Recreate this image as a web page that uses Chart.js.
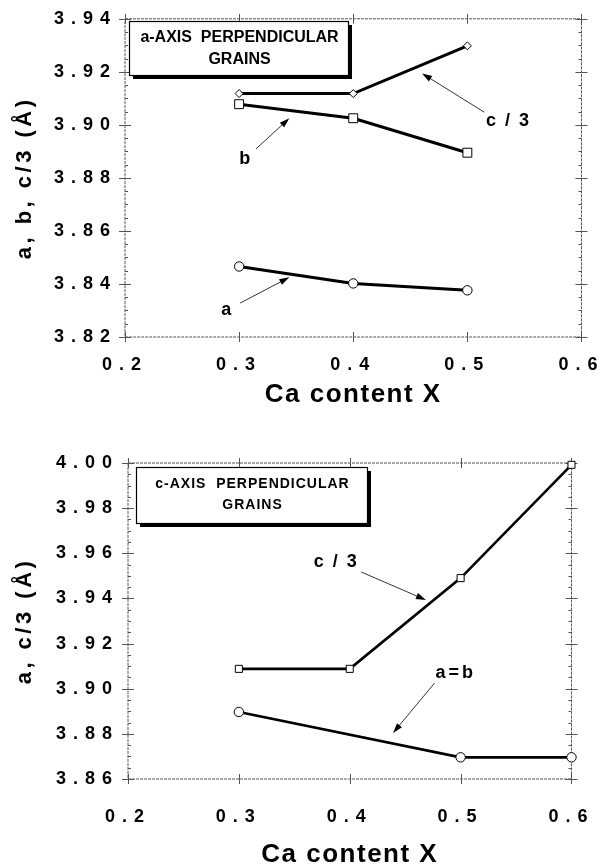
<!DOCTYPE html>
<html>
<head>
<meta charset="utf-8">
<script src="https://cdn.jsdelivr.net/npm/chart.js@4.4.1/dist/chart.umd.min.js"></script>
<style>
  body { margin: 0; background: #fff; }
  canvas { position: absolute; left: 0; }
  #top { top: 0; }
  #bottom { top: 430px; }
</style>
</head>
<body>
<canvas id="top" width="611" height="430"></canvas>
<canvas id="bottom" width="611" height="437"></canvas>
<script>
// ---- data ----
const xTicks = [0.2, 0.3, 0.4, 0.5, 0.6];
const yTicksTop = [3.82, 3.84, 3.86, 3.88, 3.90, 3.92, 3.94];
const yTicksBottom = [3.86, 3.88, 3.90, 3.92, 3.94, 3.96, 3.98, 4.00];

// a-axis perpendicular grains
const topX = [0.3, 0.4, 0.5];
const topA = [3.8466, 3.8402, 3.8376];
const topB = [3.9078, 3.9025, 3.8895];
const topC3 = [3.9118, 3.9118, 3.9298];

// c-axis perpendicular grains
const botCX = [0.3, 0.4, 0.5, 0.6];
const botC3 = [3.9088, 3.9088, 3.9490, 3.9992];
const botABX = [0.3, 0.5, 0.6];
const botAB = [3.8897, 3.8696, 3.8696];

const FONT = "'Liberation Sans', Arial, sans-serif";
const pts = (xs, ys) => xs.map((x, i) => ({ x, y: ys[i] }));

function arrow(ctx, x0, y0, x1, y1) {
  const ang = Math.atan2(y1 - y0, x1 - x0);
  ctx.beginPath();
  ctx.moveTo(x0, y0);
  ctx.lineTo(x1 - 6 * Math.cos(ang), y1 - 6 * Math.sin(ang));
  ctx.stroke();
  ctx.beginPath();
  ctx.moveTo(x1, y1);
  ctx.lineTo(x1 - 10 * Math.cos(ang) + 3.2 * Math.sin(ang), y1 - 10 * Math.sin(ang) - 3.2 * Math.cos(ang));
  ctx.lineTo(x1 - 10 * Math.cos(ang) - 3.2 * Math.sin(ang), y1 - 10 * Math.sin(ang) + 3.2 * Math.cos(ang));
  ctx.closePath();
  ctx.fill();
}

const deco = {
  id: 'deco',
  beforeDraw(chart) {
    chart.ctx.letterSpacing = '7px';
  },
  beforeDatasetsDraw(chart) {
    // frame with crossing major ticks, minor ticks inside
    const { ctx, chartArea: a, scales: { x, y } } = chart;
    ctx.save();
    ctx.strokeStyle = '#555';
    ctx.lineWidth = 1;
    ctx.setLineDash([3, 1]);
    ctx.strokeRect(a.left, a.top, a.right - a.left, a.bottom - a.top);
    ctx.setLineDash([]);
    ctx.beginPath();
    y.ticks.forEach(t => {
      const p = Math.round(y.getPixelForValue(t.value)) + 0.5;
      ctx.moveTo(a.left - 6, p); ctx.lineTo(a.left + 6, p);
      ctx.moveTo(a.right - 6, p); ctx.lineTo(a.right + 6, p);
    });
    for (let i = 0; i < y.ticks.length - 1; i++) {
      const v0 = y.ticks[i].value, v1 = y.ticks[i + 1].value;
      for (let k = 1; k < 4; k++) {
        const p = Math.round(y.getPixelForValue(v0 + (v1 - v0) * k / 4)) + 0.5;
        ctx.moveTo(a.left, p); ctx.lineTo(a.left + 3, p);
        ctx.moveTo(a.right - 3, p); ctx.lineTo(a.right, p);
      }
    }
    x.ticks.forEach(t => {
      const p = Math.round(x.getPixelForValue(t.value)) + 0.5;
      ctx.moveTo(p, a.bottom - 5); ctx.lineTo(p, a.bottom + 5);
      ctx.moveTo(p, a.top - 5); ctx.lineTo(p, a.top + 5);
    });
    ctx.stroke();
    ctx.restore();
  },
  afterDatasetsDraw(chart, args, o) {
    const { ctx, chartArea: a, scales: { x, y } } = chart;
    ctx.save();
    ctx.fillStyle = '#000';
    ctx.strokeStyle = '#000';

    // axis titles
    ctx.font = 'bold 26px ' + FONT;
    ctx.letterSpacing = '1.5px';
    ctx.textAlign = 'center';
    ctx.textBaseline = 'middle';
    ctx.fillText(o.xTitle, (a.left + a.right) / 2, o.xTitleY);
    ctx.save();
    ctx.translate(25, (a.top + a.bottom) / 2);
    ctx.rotate(-Math.PI / 2);
    ctx.font = 'bold 22px ' + FONT;
    ctx.letterSpacing = '3.5px';
    ctx.fillText(o.yTitle, 0, 0);
    ctx.restore();

    // label box with drop shadow
    const b = o.box;
    ctx.fillRect(b.x + 4, b.y + 4, b.w, b.h);
    ctx.fillStyle = '#fff';
    ctx.fillRect(b.x, b.y, b.w, b.h);
    ctx.lineWidth = 1.2;
    ctx.strokeRect(b.x + 0.5, b.y + 0.5, b.w, b.h);
    ctx.fillStyle = '#000';
    ctx.font = 'bold ' + b.size + 'px ' + FONT;
    ctx.letterSpacing = b.ls + 'px';
    ctx.fillText(b.lines[0], b.x + b.w / 2 + 1, b.y + b.l1);
    ctx.fillText(b.lines[1], b.x + b.w / 2 + 1, b.y + b.l2);

    // curve labels with arrows
    ctx.lineWidth = 0.8;
    o.notes.forEach(n => {
      ctx.font = 'bold 18px ' + FONT;
      ctx.letterSpacing = n.ls + 'px';
      ctx.fillText(n.text, x.getPixelForValue(n.at[0]), y.getPixelForValue(n.at[1]));
      arrow(ctx, x.getPixelForValue(n.from[0]), y.getPixelForValue(n.from[1]),
        x.getPixelForValue(n.to[0]), y.getPixelForValue(n.to[1]));
    });
    ctx.restore();
  }
};

function line(data, style, r, w) {
  return {
    data, borderColor: '#000', borderWidth: w, tension: 0, clip: false,
    pointStyle: style, pointRadius: r, pointBackgroundColor: '#fff',
    pointBorderColor: '#000', pointBorderWidth: 1
  };
}

function opts(yTicks, cfg) {
  const tickFont = { family: FONT, size: 18, weight: 'bold' };
  return {
    responsive: false,
    animation: false,
    layout: { padding: { top: cfg.top, right: cfg.right, left: 0, bottom: 0 } },
    plugins: { legend: { display: false }, tooltip: { enabled: false }, deco: cfg.deco },
    scales: {
      x: {
        type: 'linear', min: 0.2, max: 0.6,
        afterBuildTicks: s => { s.ticks = xTicks.map(v => ({ value: v })); },
        afterFit: s => { s.height = cfg.xh; },
        grid: { display: false, drawTicks: false }, border: { display: false },
        ticks: { padding: cfg.xpad, color: '#000', font: tickFont, maxRotation: 0, callback: v => v.toFixed(1) }
      },
      y: {
        type: 'linear', min: yTicks[0], max: yTicks[yTicks.length - 1],
        afterBuildTicks: s => { s.ticks = yTicks.map(v => ({ value: v })); },
        afterFit: s => { s.width = cfg.left; },
        grid: { display: false, drawTicks: false }, border: { display: false },
        ticks: { padding: cfg.ypad, color: '#000', font: tickFont, callback: v => v.toFixed(2) }
      }
    }
  };
}

new Chart(document.getElementById('top'), {
  type: 'line',
  data: {
    datasets: [
      line(pts(topX, topC3), 'rectRot', 4, 3),
      line(pts(topX, topB), 'rect', 6.3, 3),
      line(pts(topX, topA), 'circle', 4.7, 3)
    ]
  },
  options: opts(yTicksTop, {
    top: 17, right: 22, left: 125, xh: 93, xpad: 17, ypad: 8,
    deco: {
      xTitle: 'Ca content X', xTitleY: 395, yTitle: 'a, b, c/3 (Å)',
      box: { x: 129, y: 21, w: 219, h: 54, size: 16, ls: 0, l1: 17, l2: 39,
        lines: ['a-AXIS  PERPENDICULAR', 'GRAINS'] },
      notes: [
        { text: 'c / 3', ls: 2, at: [0.536, 3.9014], from: [0.5147, 3.9048], to: [0.4603, 3.9194] },
        { text: 'b', ls: 0, at: [0.305, 3.8871], from: [0.3147, 3.8909], to: [0.344, 3.9025] },
        { text: 'a', ls: 0, at: [0.2888, 3.8301], from: [0.3009, 3.8328], to: [0.344, 3.8425] }
      ]
    }
  }),
  plugins: [deco]
});

new Chart(document.getElementById('bottom'), {
  type: 'line',
  data: {
    datasets: [
      line(pts(botCX, botC3), 'rect', 5, 2.6),
      line(pts(botABX, botAB), 'circle', 4.7, 2.6)
    ]
  },
  options: opts(yTicksBottom, {
    top: 33, right: 23, left: 128, xh: 88, xpad: 27, ypad: 9,
    deco: {
      xTitle: 'Ca content X', xTitleY: 425, yTitle: 'a, c/3 (Å)',
      box: { x: 136, y: 37, w: 231, h: 56, size: 14, ls: 1, l1: 17, l2: 38,
        lines: ['c-AXIS  PERPENDICULAR', 'GRAINS'] },
      notes: [
        { text: 'c / 3', ls: 2, at: [0.3878, 3.9561], from: [0.4104, 3.9517], to: [0.4687, 3.9393] },
        { text: 'a=b', ls: 3, at: [0.4957, 3.907], from: [0.4765, 3.9025], to: [0.4391, 3.8804] }
      ]
    }
  }),
  plugins: [deco]
});
</script>
</body>
</html>
